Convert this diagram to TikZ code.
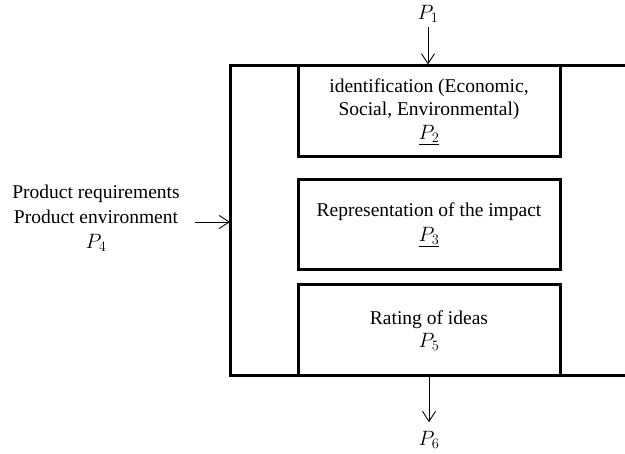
\documentclass[tikz,border=0pt]{standalone}
\usepackage{fontspec}
\setmainfont{Liberation Serif}
\usetikzlibrary{arrows.meta}
\newcommand{\Pn}[1]{{\fontsize{21.5}{23}\selectfont$P_{#1}$}}
\newcommand{\Pu}[1]{{\fontsize{21.5}{23}\selectfont$\underline{P_{#1}}$}}
\begin{document}
\begin{tikzpicture}[x=1pt,y=-1pt,
  txt/.style={font=\fontsize{19.5}{23}\selectfont, align=center, inner sep=0pt},
  stagebox/.style={draw, line width=3pt, minimum width=262pt, inner sep=0pt, txt},
  frameline/.style={line width=3pt},
  flow/.style={line width=0.9pt, -{Straight Barb[length=10pt,width=13pt,line width=0.9pt]}}
]
\useasboundingbox (0,0) rectangle (625,454);
% frame
\draw[frameline] (625,66) -- (230,66) -- (230,376) -- (625,376);
\coordinate (frameL) at (230,222);
% boxes
\node[stagebox, minimum height=91pt] (b1) at (429,111.5) {identification (Economic,\\Social, Environmental)\\[1pt]\Pu{2}};
\node[stagebox, minimum height=90pt] (b2) at (429,225) {Representation of the impact\\[2pt]\Pu{3}};
\node[stagebox, minimum height=91pt] (b3) at (429,330.5) {Rating of ideas\\\Pn{5}};
% labels
\node[txt] (p1) at (428,14) {\Pn{1}};
\node[txt] (p6) at (429,440) {\Pn{6}};
\node[txt, font=\fontsize{19.5}{25}\selectfont] (p4) at (96,218) {Product requirements\\Product environment\\\Pn{4}};
% arrows
\draw[flow, shorten <=4pt] (p1.south) -- (p1.south |- b1.north);
\draw[flow, shorten >=9pt] (b3.south) -- (p6.north);
\draw[flow, shorten <=15pt] (p4.east |- frameL) -- (frameL);
\end{tikzpicture}
\end{document}
